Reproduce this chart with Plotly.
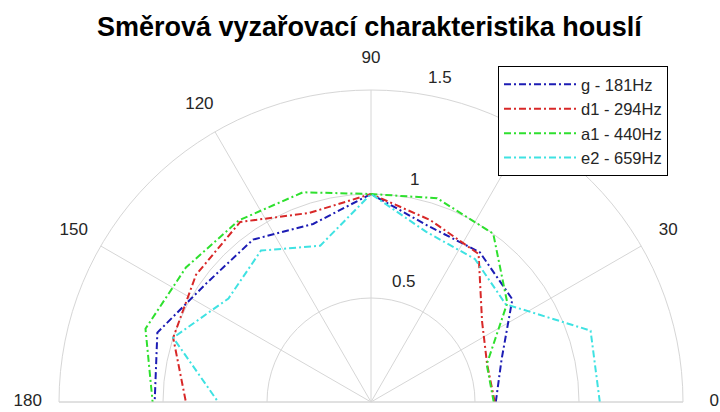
import plotly.graph_objects as go

# ---- data ----
theta_deg = [0, 18, 36, 54, 72, 90, 108, 126, 144, 162, 180]
g_181 = [0.60, 0.66, 0.84, 0.89, 0.89, 1.00, 0.90, 0.965, 0.975, 1.08, 1.04]
d1_294 = [0.595, 0.587, 0.66, 0.88, 0.92, 1.00, 0.956, 1.07, 1.04, 1.00, 0.89]
a1_440 = [0.59, 0.585, 0.81, 1.00, 1.03, 1.00, 1.06, 1.08, 1.10, 1.14, 1.05]
e2_659 = [1.10, 1.11, 0.80, 0.85, 0.86, 1.00, 0.79, 0.90, 0.847, 1.00, 0.735]
series_names = ["g - 181Hz", "d1 - 294Hz", "a1 - 440Hz", "e2 - 659Hz"]
angular_ticks = [0, 30, 60, 90, 120, 150, 180]
radial_ticks = [0.5, 1, 1.5]
title_text = "Směrová vyzařovací charakteristika houslí"

# ---- style ----
W, H = 720, 412
FONT = "Liberation Sans, Arial, sans-serif"
GRID = "#d6d6d6"
LABEL = "#262626"
colors = ["#1c1cb4", "#d82828", "#2ee02e", "#3fe2e2"]
DASH = "7px,3px,2px,3px"
R_MAX = 1.5      # outer circle of the plot
R_LAB = 1.675    # range of the overlay polar that carries the tick labels
ANG_LAB_R = 1.65
RAD_LAB_THETA = 80
RAD_LAB_OFF = 0.08

cx, cy, rad = 371, 402, 312           # polar centre / outer radius in px
rad2 = rad * R_LAB / R_MAX            # same scale for the label overlay

fig = go.Figure()
for name, vals, col in zip(series_names, [g_181, d1_294, a1_440, e2_659], colors):
    fig.add_trace(go.Scatterpolar(
        r=vals, theta=theta_deg, mode="lines", name=name, subplot="polar",
        line=dict(color=col, width=2, dash=DASH),
    ))

# angular tick labels (60 sits under the legend, as in the reference)
fig.add_trace(go.Scatterpolar(
    r=[ANG_LAB_R] * len(angular_ticks), theta=angular_ticks, subplot="polar2",
    mode="text", text=[str(t) for t in angular_ticks],
    textposition="middle center",
    textfont=dict(family=FONT, size=17, color=LABEL),
    showlegend=False, hoverinfo="skip", cliponaxis=False,
))
# radial tick labels
fig.add_trace(go.Scatterpolar(
    r=[t + RAD_LAB_OFF for t in radial_ticks], theta=[RAD_LAB_THETA] * len(radial_ticks),
    subplot="polar2", mode="text", text=[f"{t:g}" for t in radial_ticks],
    textposition="middle right",
    textfont=dict(family=FONT, size=17, color=LABEL),
    showlegend=False, hoverinfo="skip", cliponaxis=False,
))

hidden_radial = dict(range=[0, R_LAB], showticklabels=False, ticks="",
                     showline=False, showgrid=False)
hidden_angular = dict(showticklabels=False, ticks="", showline=False, showgrid=False,
                      direction="counterclockwise", rotation=0)

fig.update_layout(
    width=W, height=H,
    margin=dict(l=0, r=0, t=0, b=0),
    paper_bgcolor="white",
    font=dict(family=FONT, color=LABEL),
    polar=dict(
        domain=dict(x=[(cx - rad) / W, (cx + rad) / W],
                    y=[(H - cy) / H, (H - cy + rad) / H]),
        sector=[0, 180],
        bgcolor="white",
        radialaxis=dict(range=[0, R_MAX], tickvals=radial_ticks,
                        showticklabels=False, ticks="", showline=False,
                        gridcolor=GRID, gridwidth=1),
        angularaxis=dict(tickvals=angular_ticks, showticklabels=False,
                         ticks="", gridcolor=GRID, gridwidth=1,
                         showline=True, linecolor=GRID, linewidth=1,
                         direction="counterclockwise", rotation=0),
    ),
    polar2=dict(
        domain=dict(x=[(cx - rad2) / W, (cx + rad2) / W],
                    y=[(H - cy) / H, (H - cy + rad2) / H]),
        sector=[0, 180],
        bgcolor="rgba(0,0,0,0)",
        radialaxis=hidden_radial,
        angularaxis=hidden_angular,
    ),
    legend=dict(x=498 / W, y=1 - 66 / H, xanchor="left", yanchor="top",
                bgcolor="white", bordercolor="black", borderwidth=1,
                font=dict(family=FONT, size=16.5, color=LABEL),
                itemwidth=72, tracegroupgap=0),
    annotations=[dict(text="<b>" + title_text + "</b>", x=370 / W, y=1 - 27 / H,
                      xref="paper", yref="paper", xanchor="center", yanchor="middle",
                      showarrow=False, font=dict(family=FONT, size=27, color="black"))],
)

fig.write_html("out.html", config={"displayModeBar": False},
               post_script="document.body.style.margin='0px';")
